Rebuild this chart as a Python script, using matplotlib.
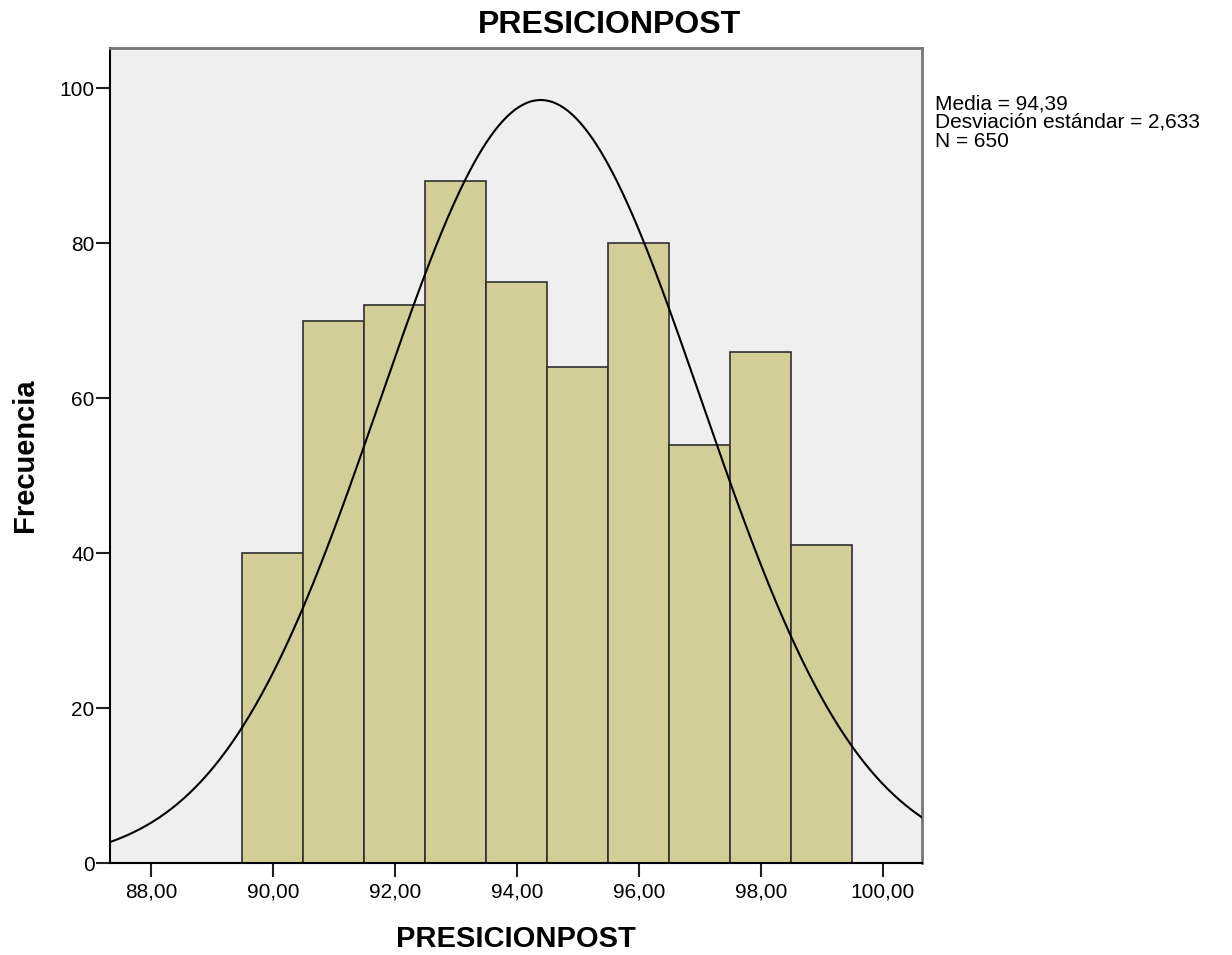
import numpy as np
import matplotlib.pyplot as plt

plt.rcParams['font.family'] = ['Liberation Sans', 'DejaVu Sans']

# bin centres and counts
bin_centers = [90, 91, 92, 93, 94, 95, 96, 97, 98, 99]
counts = [40, 70, 72, 88, 75, 64, 80, 54, 66, 41]
media = 94.39
desv = 2.633
n_total = 650
xticks = [88, 90, 92, 94, 96, 98, 100]
yticks = [0, 20, 40, 60, 80, 100]

fig = plt.figure(figsize=(12.32, 9.55), dpi=100)
ax = fig.add_axes([110 / 1232, 92 / 955, 812 / 1232, 815 / 955])
ax.set_facecolor('#efefef')

ax.bar(bin_centers, counts, width=1.0, color='#d3ce98', edgecolor='#303030', linewidth=1.2, zorder=2)

# normal curve scaled to counts (bin width 1)
xs = np.linspace(87.33, 100.64, 400)
ys = n_total / (desv * np.sqrt(2 * np.pi)) * np.exp(-0.5 * ((xs - media) / desv) ** 2)
ax.plot(xs, ys, color='black', linewidth=1.5, zorder=3)

ax.set_xlim(87.33, 100.64)
ax.set_ylim(0, 105.2)
ax.set_xticks(xticks)
ax.set_xticklabels([('%.2f' % t).replace('.', ',') for t in xticks])
ax.set_yticks(yticks)
ax.tick_params(axis='both', labelsize=15, length=10, width=1.5, color='#202020')
ax.tick_params(axis='x', pad=4)
ax.tick_params(axis='y', pad=1)

for side in ['top', 'right']:
    ax.spines[side].set_color('#777777')
    ax.spines[side].set_linewidth(2)
for side in ['left', 'bottom']:
    ax.spines[side].set_color('black')
    ax.spines[side].set_linewidth(1.5)

ax.set_xlabel('PRESICIONPOST', fontsize=21, fontweight='bold', labelpad=17)
ax.set_ylabel('Frecuencia', fontsize=21, fontweight='bold', labelpad=15)
fig.text(0.495, 0.974, 'PRESICIONPOST', ha='center', va='center', fontsize=23, fontweight='bold')

stats = 'Media = 94,39\nDesviación estándar = 2,633\nN = 650'
fig.text(935 / 1232, 1 - 94 / 955, stats, ha='left', va='top', fontsize=15, linespacing=1.0)

fig.savefig('out.png', dpi=100)
